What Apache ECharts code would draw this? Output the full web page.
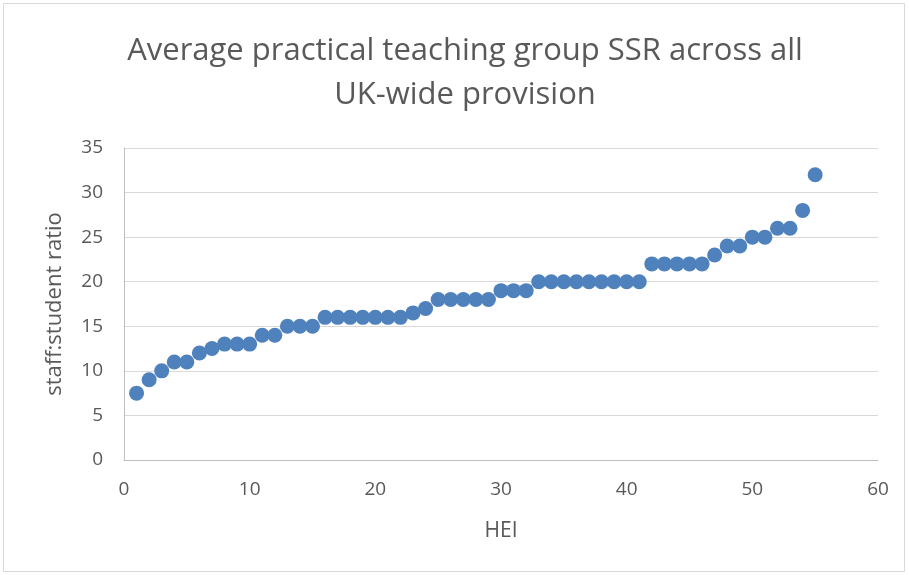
<!DOCTYPE html>
<html>
<head>
<meta charset="utf-8">
<script src="https://cdn.jsdelivr.net/npm/echarts@6/dist/echarts.min.js"></script>
<style>
  html, body { margin: 0; padding: 0; background: #fff; }
  #chart { width: 909px; height: 575px; }
</style>
</head>
<body>
<div id="chart"></div>
<script>
const titleText = "Average practical teaching group SSR across all\nUK-wide provision";
const xName = "HEI";
const yName = "staff:student ratio";

// HEI index 1..55, sorted ratios
const hei = [];
for (let i = 1; i <= 55; i++) hei.push(i);
const ratios = [
    7.5, 9, 10, 11, 11, 12, 12.5, 13, 13, 13,
    14, 14, 15, 15, 15, 16, 16, 16, 16, 16,
    16, 16, 16.5, 17, 18, 18, 18, 18, 18, 19,
    19, 19, 20, 20, 20, 20, 20, 20, 20, 20,
    20, 22, 22, 22, 22, 22, 23, 24, 24, 25,
    25, 26, 26, 28, 32
];

const font = "Open Sans";
const grey = "#595959";

const chart = echarts.init(document.getElementById("chart"));
chart.setOption({
    backgroundColor: "#fff",
    animation: false,
    graphic: [{
        type: "rect",
        shape: { x: 3.5, y: 3.5, width: 901, height: 568 },
        style: { fill: "none", stroke: "#d9d9d9", lineWidth: 1 },
        silent: true
    }],
    title: {
        text: titleText,
        left: 460,
        textAlign: "center",
        top: 24,
        textStyle: {
            fontFamily: font,
            fontSize: 31,
            fontWeight: "normal",
            color: grey,
            lineHeight: 44
        }
    },
    grid: { left: 124, right: 31, top: 148, bottom: 115 },
    xAxis: {
        type: "value",
        min: 0,
        max: 60,
        interval: 10,
        name: xName,
        nameLocation: "middle",
        nameGap: 61,
        nameTextStyle: { fontFamily: font, fontSize: 21, color: grey },
        axisLine: { show: true, lineStyle: { color: "#bfbfbf" } },
        axisTick: { show: false },
        splitLine: { show: false },
        axisLabel: { fontFamily: font, fontSize: 19, color: grey, margin: 20 }
    },
    yAxis: {
        type: "value",
        min: 0,
        max: 35,
        interval: 5,
        name: yName,
        nameLocation: "middle",
        nameGap: 58,
        nameTextStyle: { fontFamily: font, fontSize: 22, color: grey },
        axisLine: { show: true, lineStyle: { color: "#bfbfbf" } },
        axisTick: { show: false },
        splitLine: { show: true, lineStyle: { color: "#d9d9d9" } },
        axisLabel: { fontFamily: font, fontSize: 19, color: grey, margin: 21 }
    },
    series: [{
        type: "scatter",
        data: hei.map((h, i) => [h, ratios[i]]),
        symbolSize: 15,
        itemStyle: { color: "#4F81BD", opacity: 1 }
    }]
});
</script>
</body>
</html>
